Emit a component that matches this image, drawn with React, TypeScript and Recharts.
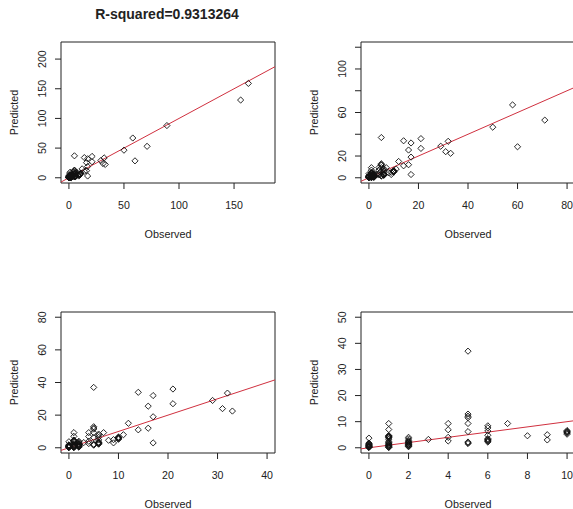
import React from "react";
import { ScatterChart, Scatter, XAxis, YAxis, ReferenceLine, ReferenceArea } from "recharts";

// ---- data ----
const observed = [
  0, 0, 0, 0, 0, 0, 0, 0, 0, 0, 0, 0, 0, 0,
  1, 1, 1, 1, 1, 1, 1, 1, 1, 1, 1, 1, 1, 1, 1, 1, 1, 1, 1, 1,
  2, 2, 2, 2, 2, 2, 2, 2, 2, 2, 2, 2, 2, 2,
  3,
  4, 4, 4, 4,
  5, 5, 5, 5, 5, 5, 5, 5, 5,
  6, 6, 6, 6, 6, 6, 6, 6, 6, 6,
  7,
  8,
  9, 9,
  10, 10, 10, 10, 10, 10,
  11, 12, 14, 14, 16, 16, 17, 17, 17, 21, 21, 29, 31, 32, 33, 50, 58, 60, 71, 89, 156, 163,
];
const predicted = [
  3.7, 1.8, 1.4, 1.1, 0.8, 0.5, 0.3, 0.1, 0.9, 1.3, 1.6, 0.6, 0.2, 0.4,
  9.3, 7.0, 4.7, 4.4, 4.0, 3.3, 2.5, 1.8, 1.2, 0.8, 0.4, 0.2, 4.5, 4.2, 3.8, 1.5, 1.0, 0.6, 2.0, 0.1,
  4.0, 3.4, 2.8, 2.2, 1.8, 1.3, 1.0, 0.6, 1.5, 1.2, 0.8, 2.0, 2.4, 0.4,
  3.2,
  9.3, 6.9, 4.0, 2.6,
  37, 12.9, 12.1, 9.3, 6.2, 2.2, 1.6, 1.9, 11.5,
  8.4, 7.6, 6.4, 4.8, 3.5, 2.7, 2.2, 3.0, 2.5, 3.2,
  9.3,
  4.6,
  5.0, 3.0,
  6.6, 6.1, 5.6, 5.2, 5.9, 6.3,
  8, 15, 34, 11, 25.5, 12, 32, 19, 3, 36, 27, 29, 24, 33.5, 22.5, 46.5, 67, 28.5, 53, 88, 131, 159,
];

const titleText = "R-squared=0.9313264";
const xLabel = "Observed";
const yLabel = "Predicted";

// axis limits (R style, before 4% padding) per panel
const panelXLim = [180, 80, 40, 10];
const panelYLim = [220, 120, 80, 50];
const panelXTicks = [
  [0, 50, 100, 150],
  [0, 20, 40, 60, 80],
  [0, 10, 20, 30, 40],
  [0, 2, 4, 6, 8, 10],
];
const panelYTicks = [
  [0, 50, 100, 150, 200],
  [0, 20, 40, 60, 80, 100, 120],
  [0, 20, 40, 60, 80],
  [0, 10, 20, 30, 40, 50],
];
const panelYTickLabels = [
  [0, 50, 100, 150, 200],
  [0, 20, 60, 100],
  [0, 20, 40, 60, 80],
  [0, 10, 20, 30, 40, 50],
];

const points = observed.map((o, i) => ({ obs: o, pred: predicted[i] }));

// ---- layout ----
const CW = 286;
const CH = 255;
const panelPos = [
  { left: 0, top: 0 },
  { left: 300, top: 0 },
  { left: 0, top: 270 },
  { left: 300, top: 270 },
];
const PLOT_L = 61;
const PLOT_R = 275;
const PLOT_T = 42;
const PLOT_B = 183;
const FONT = "'Liberation Sans', Arial, sans-serif";
const TXT = "#222";

const Diamond = (props: any) => {
  const { cx, cy } = props;
  if (cx == null || cy == null) return null;
  const r = 3.1;
  return (
    <path
      d={`M${cx},${cy - r}L${cx + r},${cy}L${cx},${cy + r}L${cx - r},${cy}Z`}
      fill="none"
      stroke="#111"
      strokeWidth={0.9}
    />
  );
};

const XTick = (props: any) => {
  const { x, payload } = props;
  return (
    <text x={x} y={209} textAnchor="middle" fontFamily={FONT} fontSize={10.6} fill={TXT}>
      {payload.value}
    </text>
  );
};

const makeYTick = (labels: number[]) => (props: any) => {
  const { y, payload } = props;
  if (!labels.includes(payload.value)) return <g />;
  return (
    <text
      x={46}
      y={y}
      transform={`rotate(-90, 46, ${y})`}
      textAnchor="middle"
      fontFamily={FONT}
      fontSize={10.6}
      fill={TXT}
    >
      {payload.value}
    </text>
  );
};

const Panel = ({ idx }: { idx: number }) => {
  const xl = panelXLim[idx];
  const yl = panelYLim[idx];
  const xd: [number, number] = [-0.04 * xl, 1.04 * xl];
  const yd: [number, number] = [-0.04 * yl, 1.04 * yl];
  const lo = Math.max(xd[0], yd[0]);
  const hi = Math.min(xd[1], yd[1]);
  const data = points.filter(
    (p) => p.obs >= xd[0] && p.obs <= xd[1] && p.pred >= yd[0] && p.pred <= yd[1]
  );
  const pos = panelPos[idx];
  return (
    <div style={{ position: "absolute", left: pos.left, top: pos.top, width: CW, height: CH }}>
      <ScatterChart
        width={CW}
        height={CH}
        margin={{ top: PLOT_T, right: CW - PLOT_R, bottom: 32, left: 11 }}
      >
        <XAxis
          type="number"
          dataKey="obs"
          domain={xd}
          ticks={panelXTicks[idx]}
          interval={0}
          allowDataOverflow
          axisLine={false}
          tickLine={{ stroke: "#222", strokeWidth: 1 }}
          tickSize={6}
          height={40}
          tick={<XTick />}
        />
        <YAxis
          type="number"
          dataKey="pred"
          domain={yd}
          ticks={panelYTicks[idx]}
          interval={0}
          allowDataOverflow
          axisLine={false}
          tickLine={{ stroke: "#222", strokeWidth: 1 }}
          tickSize={6}
          width={50}
          tick={makeYTick(panelYTickLabels[idx])}
        />
        <ReferenceArea
          x1={xd[0]}
          x2={xd[1]}
          y1={yd[0]}
          y2={yd[1]}
          fill="none"
          fillOpacity={0}
          stroke="#222"
          strokeWidth={1}
          ifOverflow="visible"
        />
        <Scatter data={data} shape={<Diamond />} isAnimationActive={false} />
        <ReferenceLine
          segment={[
            { x: lo, y: lo },
            { x: hi, y: hi },
          ]}
          stroke="#d0303f"
          strokeWidth={1}
          ifOverflow="visible"
        />
      </ScatterChart>
    </div>
  );
};

export default function App() {
  return (
    <div
      style={{
        position: "absolute",
        left: 0,
        top: 0,
        width: 573,
        height: 509,
        overflow: "hidden",
        background: "#fff",
      }}
    >
      {[0, 1, 2, 3].map((i) => (
        <Panel key={i} idx={i} />
      ))}
      <svg
        width={573}
        height={509}
        style={{ position: "absolute", left: 0, top: 0, pointerEvents: "none" }}
      >
        <text
          x={167}
          y={18.5}
          textAnchor="middle"
          fontFamily={FONT}
          fontWeight="bold"
          fontSize={14}
          fill={TXT}
        >
          {titleText}
        </text>
        {panelPos.map((p, i) => {
          const cx = p.left + (PLOT_L + PLOT_R) / 2;
          const cy = p.top + (PLOT_T + PLOT_B) / 2;
          const lx = p.left + 18;
          return (
            <g key={i}>
              <text
                x={cx}
                y={p.top + 238}
                textAnchor="middle"
                fontFamily={FONT}
                fontSize={10.8}
                fill={TXT}
              >
                {xLabel}
              </text>
              <text
                x={lx}
                y={cy}
                transform={`rotate(-90, ${lx}, ${cy})`}
                textAnchor="middle"
                fontFamily={FONT}
                fontSize={10.8}
                fill={TXT}
              >
                {yLabel}
              </text>
            </g>
          );
        })}
      </svg>
    </div>
  );
}
